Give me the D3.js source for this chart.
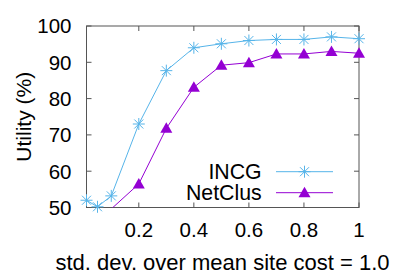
<!DOCTYPE html>
<html>
<head>
<meta charset="utf-8">
<script src="https://cdn.jsdelivr.net/npm/d3@7"></script>
<style>
  body { margin: 0; background: #fff; }
  text { font-family: "Liberation Sans", Arial, sans-serif; fill: #000; }
</style>
</head>
<body>
<svg id="chart" width="399" height="279"></svg>
<script>
const xValues = [0.01, 0.05, 0.1, 0.2, 0.3, 0.4, 0.5, 0.6, 0.7, 0.8, 0.9, 1.0];
const incgValues = [52.0, 50.2, 53.2, 73.0, 87.7, 94.0, 95.1, 96.0, 96.3, 96.3, 97.0, 96.5];
const netclusValues = [45.0, 47.0, 49.6, 56.5, 71.8, 83.1, 89.2, 89.9, 92.3, 92.3, 93.0, 92.5];
const xTicks = [0.2, 0.4, 0.6, 0.8, 1];
const yTicks = [50, 60, 70, 80, 90, 100];

const svg = d3.select("#chart");
const margin = { top: 26, right: 40, bottom: 71.5, left: 86.5 };
const width = 399 - margin.left - margin.right;
const height = 279 - margin.top - margin.bottom;

const chart = svg.append("g")
  .attr("transform", `translate(${margin.left},${margin.top})`);

const x = d3.scaleLinear().domain([0.01, 1]).range([0, width]);
const y = d3.scaleLinear().domain([50, 100]).range([height, 0]);

const series = [
  { name: "INCG", values: incgValues, color: "#56b4e9", marker: "star" },
  { name: "NetClus", values: netclusValues, color: "#9400d3", marker: "tri" }
];

chart.append("clipPath").attr("id", "clip")
  .append("rect").attr("width", width).attr("height", height);

// tick marks, inward, mirrored on all sides
const tickLen = 5;
const borderColor = "#555";
xTicks.forEach(t => {
  chart.append("line").attr("x1", x(t)).attr("x2", x(t))
    .attr("y1", height).attr("y2", height - tickLen)
    .attr("stroke", borderColor);
  chart.append("line").attr("x1", x(t)).attr("x2", x(t))
    .attr("y1", 0).attr("y2", tickLen)
    .attr("stroke", borderColor);
  chart.append("text").attr("x", x(t)).attr("y", height + 29.5)
    .attr("text-anchor", "middle").style("font-size", "20.5px")
    .text(t);
});
yTicks.forEach(t => {
  chart.append("line").attr("x1", 0).attr("x2", tickLen)
    .attr("y1", y(t)).attr("y2", y(t)).attr("stroke", borderColor);
  chart.append("line").attr("x1", width).attr("x2", width - tickLen)
    .attr("y1", y(t)).attr("y2", y(t)).attr("stroke", borderColor);
  chart.append("text").attr("x", -15).attr("y", y(t) + 7.3)
    .attr("text-anchor", "end").style("font-size", "20.5px")
    .text(t);
});

chart.append("rect").attr("width", width).attr("height", height)
  .attr("fill", "none").attr("stroke", borderColor).attr("stroke-width", 1);

const line = d3.line().x((d, i) => x(xValues[i])).y(d => y(d));

function drawMarker(g, type, cx, cy, color) {
  if (type === "star") {
    const r = 6;
    g.append("path")
      .attr("d", `M${cx - r},${cy}H${cx + r}M${cx},${cy - r}V${cy + r}` +
        `M${cx - r * 0.75},${cy - r * 0.75}L${cx + r * 0.75},${cy + r * 0.75}` +
        `M${cx - r * 0.75},${cy + r * 0.75}L${cx + r * 0.75},${cy - r * 0.75}`)
      .attr("stroke", color).attr("stroke-width", 1).attr("fill", "none");
  } else {
    const s = 6;
    g.append("path")
      .attr("d", `M${cx},${cy - s}L${cx + s},${cy + s * 0.75}L${cx - s},${cy + s * 0.75}Z`)
      .attr("fill", color);
  }
}

series.forEach(s => {
  chart.append("path").datum(s.values)
    .attr("d", line)
    .attr("fill", "none")
    .attr("stroke", s.color)
    .attr("stroke-width", 1)
    .attr("clip-path", "url(#clip)");
  const mg = chart.append("g");
  s.values.forEach((v, i) => {
    if (v < 50 || v > 100) return;
    drawMarker(mg, s.marker, x(xValues[i]), y(v), s.color);
  });
});

// legend
const legend = chart.append("g");
series.forEach((s, i) => {
  const ly = 145.7 + i * 21;
  legend.append("text").attr("x", 261.7 - margin.left).attr("y", ly + 7.5)
    .attr("text-anchor", "end").style("font-size", "21.3px").text(s.name);
  legend.append("line").attr("x1", 276 - margin.left).attr("x2", 333 - margin.left)
    .attr("y1", ly).attr("y2", ly).attr("stroke", s.color);
  drawMarker(legend, s.marker, 304.5 - margin.left, ly, s.color);
});

svg.append("text")
  .attr("x", 222.5).attr("y", 270)
  .attr("text-anchor", "middle").style("font-size", "22px")
  .text("std. dev. over mean site cost = 1.0");

svg.append("text")
  .attr("transform", `translate(30.5,${margin.top + height / 2}) rotate(-90)`)
  .attr("text-anchor", "middle").style("font-size", "21px")
  .text("Utility (%)");
</script>
</body>
</html>
